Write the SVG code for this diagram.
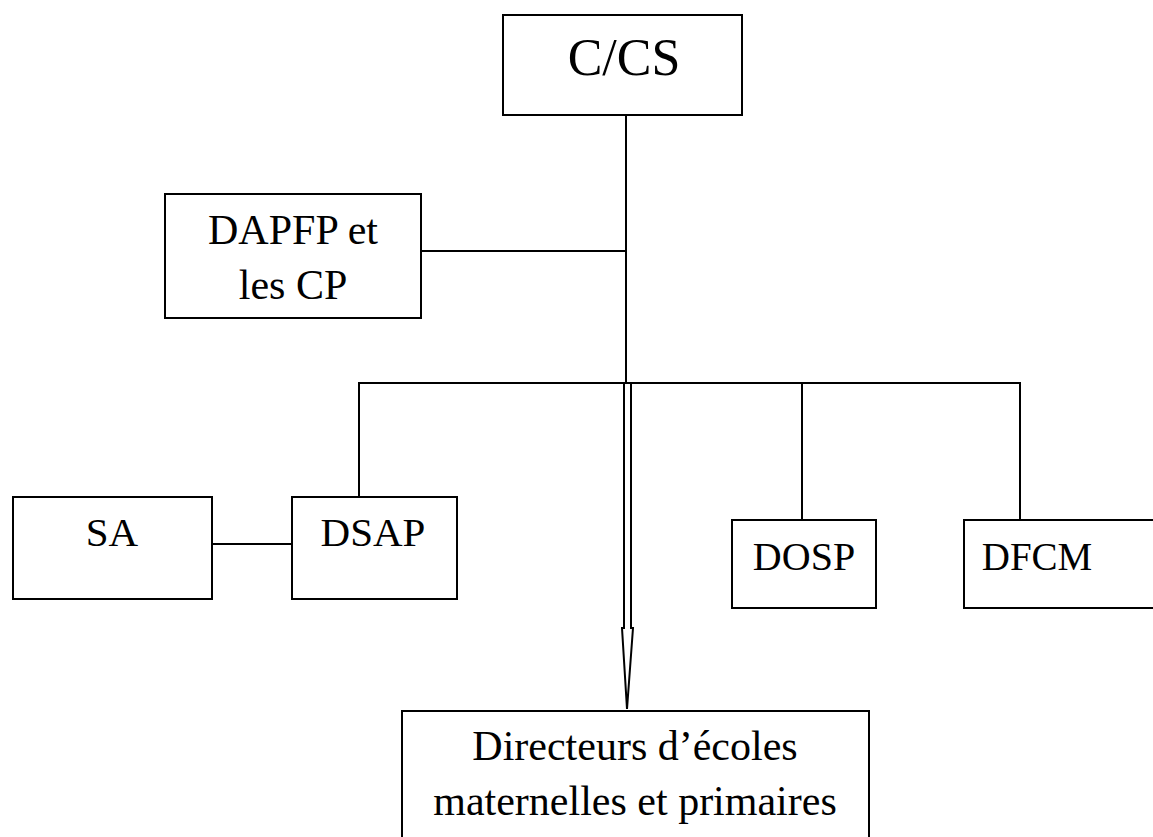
<svg xmlns="http://www.w3.org/2000/svg" width="1153" height="837" viewBox="0 0 1153 837">
<style>
.box{fill:#fff;stroke:#000;stroke-width:2}
.ln{fill:none;stroke:#000;stroke-width:2}
.t{fill:#000;text-anchor:middle}
</style>
<rect width="1153" height="837" fill="#fff"/>
<g id="connectors">
<line class="ln" x1="626" y1="115" x2="626" y2="383"/>
<line class="ln" x1="421" y1="251" x2="626" y2="251"/>
<polyline class="ln" points="359,497 359,383 1020,383 1020,520"/>
<line class="ln" x1="802" y1="383" x2="802" y2="520"/>
<line class="ln" x1="212" y1="544" x2="292" y2="544"/>
<path class="ln" d="M624,383 V628 H622 L627,709 L633,628 H631 V383" stroke-linejoin="miter"/>
</g>
<g font-family="'Liberation Serif', 'DejaVu Serif', 'Times New Roman', serif">
<g id="ccs"><rect class="box" x="503" y="15" width="239" height="100"/><text class="t" x="624" y="75" font-size="52">C/CS</text></g>
<g id="dapfp"><rect class="box" x="165" y="194" width="256" height="124"/><text class="t" x="293" y="244" font-size="42">DAPFP et</text><text class="t" x="293" y="299" font-size="42">les CP</text></g>
<g id="sa"><rect class="box" x="13" y="497" width="199" height="102"/><text class="t" x="112" y="546" font-size="41">SA</text></g>
<g id="dsap"><rect class="box" x="292" y="497" width="165" height="102"/><text class="t" x="373" y="546" font-size="41">DSAP</text></g>
<g id="dosp"><rect class="box" x="732" y="520" width="144" height="88"/><text class="t" x="804" y="570" font-size="40">DOSP</text></g>
<g id="dfcm"><rect class="box" x="964" y="520" width="200" height="88"/><text class="t" x="1037" y="570" font-size="39">DFCM</text></g>
<g id="directeurs"><rect class="box" x="402" y="711" width="467" height="140"/><text class="t" x="635" y="760" font-size="42">Directeurs d’écoles</text><text class="t" x="635" y="815" font-size="42">maternelles et primaires</text></g>
</g>
</svg>
